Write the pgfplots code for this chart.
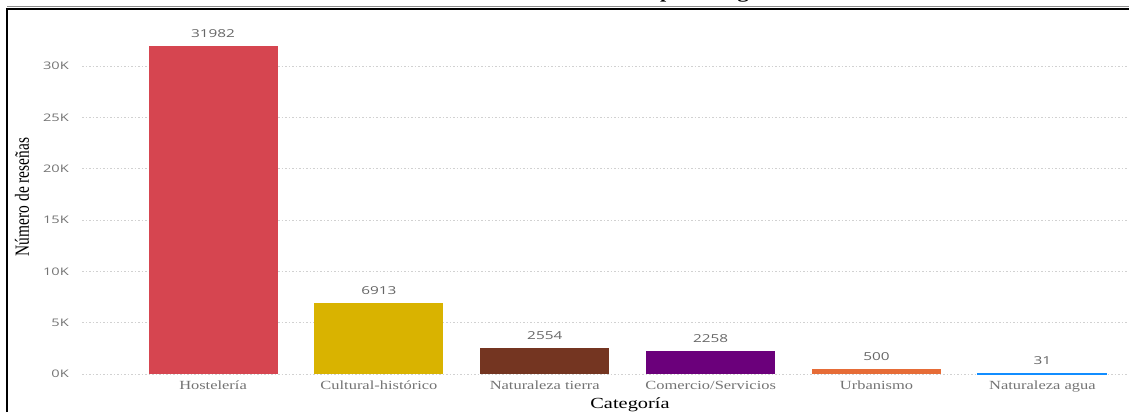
\documentclass[border=0pt]{standalone}
\usepackage{graphicx}
\usepackage{pgfplots}
\pgfplotsset{compat=1.18}
\usepackage{fontspec}
\setmainfont{Liberation Serif}
\newfontfamily\sansw[FakeStretch=1.4]{Open Sans}
\newfontfamily\serifw[FakeStretch=1.32]{Liberation Serif}
\definecolor{cRed}{HTML}{D64550}
\definecolor{cGold}{HTML}{D9B300}
\definecolor{cBrown}{HTML}{743521}
\definecolor{cPurple}{HTML}{6B007B}
\definecolor{cOrange}{HTML}{E66C37}
\definecolor{cBlue}{HTML}{118DFF}
\begin{document}
\begin{tikzpicture}[x=1bp,y=1bp]
\useasboundingbox (0,0) rectangle (1129,412);
\node[anchor=base, inner sep=0pt, font=\serifw\bfseries\fontsize{17}{20}\selectfont] at (630,413) {Número de reseñas por categoría};
\begin{axis}[
  at={(82bp,38bp)}, anchor=south west,
  scale only axis, width=1045bp, height=349bp,
  xmin=-0.79, xmax=5.51, ymin=0, ymax=34000,
  axis line style={draw=none}, major tick length=0pt,
  scaled y ticks=false,
  xtick={0,1,2,3,4,5},
  xticklabels={Hostelería, Cultural-histórico, Naturaleza tierra, Comercio/Servicios, Urbanismo, Naturaleza agua},
  xticklabel style={font=\serifw\fontsize{12.5}{14}\selectfont, text=black!55, inner sep=0pt, anchor=north, yshift=-7bp},
  ytick={0,5000,10000,15000,20000,25000,30000},
  yticklabels={0K,5K,10K,15K,20K,25K,30K},
  yticklabel style={font=\sansw\fontsize{10.5}{12}\selectfont, text=black!55, inner sep=0pt, anchor=east, xshift=-13bp},
  ymajorgrids,
  grid style={black!18, dash pattern=on 1.5bp off 2bp, line width=0.8bp},
  /pgf/number format/1000 sep={},
  /pgf/number format/assume math mode=true,
  nodes near coords, point meta=y,
  nodes near coords style={font=\sansw\fontsize{11}{12}\selectfont, text=black!60, anchor=south, inner sep=0pt, yshift=8bp},
  every axis plot/.append style={ybar, bar width=129bp, bar shift=0pt},
]
\addplot[fill=cRed, draw=none] coordinates {(0,31982)};
\addplot[fill=cGold, draw=none] coordinates {(1,6913)};
\addplot[fill=cBrown, draw=none] coordinates {(2,2554)};
\addplot[fill=cPurple, draw=none] coordinates {(3,2258)};
\addplot[fill=cOrange, draw=none] coordinates {(4,500)};
\addplot[fill=cBlue, draw=cBlue, line width=1.2bp] coordinates {(5,31)};
\end{axis}
\node[rotate=90, inner sep=0pt, font=\fontsize{15.5}{18}\selectfont] at (22,215) {\scalebox{1}[1.3]{Número de reseñas}};
\node[anchor=base, inner sep=0pt, font=\serifw\fontsize{15.5}{18}\selectfont] at (630,4) {Categoría};
\draw[black!45, line width=1bp] (7,405) -- (1129,405);
\draw[black, line width=1.6bp] (7,403) -- (1129,403);
\draw[black, line width=2bp] (7,0) -- (7,403.8);
\end{tikzpicture}
\end{document}
